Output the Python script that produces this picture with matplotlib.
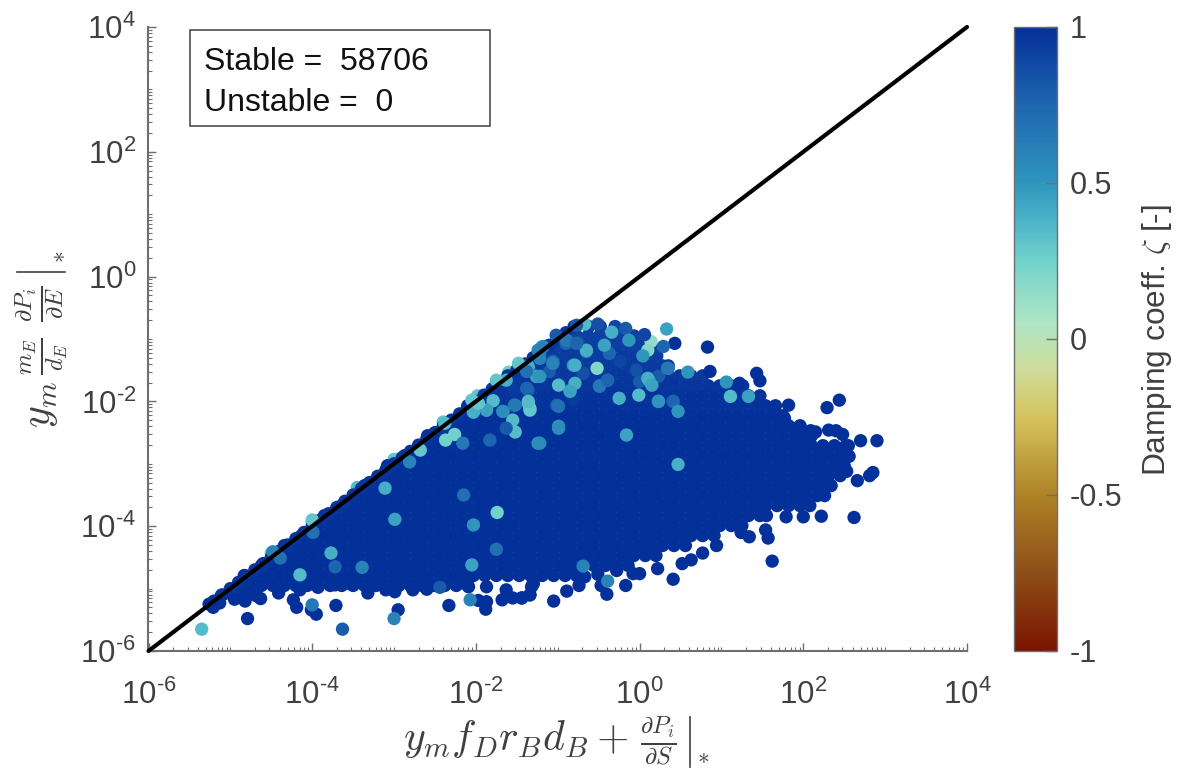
import numpy as np
import matplotlib
matplotlib.use("Agg")
import matplotlib.pyplot as plt
from matplotlib.colors import LinearSegmentedColormap, Normalize
from matplotlib.cm import ScalarMappable
from matplotlib.lines import Line2D
from matplotlib.ticker import LogLocator, FixedLocator, NullFormatter

plt.rcParams['font.family'] = ['Liberation Sans', 'DejaVu Sans']
plt.rcParams['mathtext.fontset'] = 'custom'
plt.rcParams['mathtext.rm'] = 'Liberation Sans'

# values are log10 of the plotted quantities
cloud_levels = [-0.80,-0.95,-1.11,-1.27,-1.43,-1.59,-1.75,-1.91,-2.07,-2.23,-2.39,-2.55,-2.71,-2.87,-3.03,-3.19,-3.35,-3.51,-3.67,-3.83,-3.99,-4.15,-4.31,-4.47,-4.63,-4.79,-4.95,-5.11]
cloud_zeta = [0.9,0.92,0.93,0.94,0.95,0.96,0.97,0.98,0.99,1,1,1,1,1,1,1,1,1,1,1,1,1,1,1,1,1,1,1]
cloud_rows = [
[-0.78,-0.62,-0.48,-0.30],
[-0.91,-0.77,-0.63,-0.49,-0.35,-0.21,-0.07],
[-1.12,-0.98,-0.84,-0.70,-0.56,-0.42,-0.28,-0.14,0.0,0.14],
[-1.19,-1.05,-0.91,-0.77,-0.63,-0.49,-0.35,-0.21,-0.07,0.07,0.21],
[-1.40,-1.26,-1.12,-0.98,-0.84,-0.70,-0.56,-0.42,-0.28,-0.14,0.0,0.14,0.28,0.35],
[-1.61,-1.47,-1.33,-1.19,-1.05,-0.91,-0.77,-0.63,-0.49,-0.35,-0.21,-0.07,0.07,0.21,0.35,0.49,0.63,0.77],
[-1.68,-1.54,-1.40,-1.26,-1.12,-0.98,-0.84,-0.70,-0.56,-0.42,-0.28,-0.14,0.0,0.14,0.28,0.42,0.56,0.70,0.84,0.98,1.12,1.26],
[-1.89,-1.75,-1.61,-1.47,-1.33,-1.19,-1.05,-0.91,-0.77,-0.63,-0.49,-0.35,-0.21,-0.07,0.07,0.21,0.35,0.49,0.63,0.77,0.91,1.05,1.19,1.33,1.47],
[-2.10,-1.96,-1.82,-1.68,-1.54,-1.40,-1.26,-1.12,-0.98,-0.84,-0.70,-0.56,-0.42,-0.28,-0.14,0.0,0.14,0.28,0.42,0.56,0.70,0.84,0.98,1.12,1.26,1.40,1.54],
[-2.17,-2.03,-1.89,-1.75,-1.61,-1.47,-1.33,-1.19,-1.05,-0.91,-0.77,-0.63,-0.49,-0.35,-0.21,-0.07,0.07,0.21,0.35,0.49,0.63,0.77,0.91,1.05,1.19,1.33,1.47,1.61,1.75],
[-2.38,-2.24,-2.10,-1.96,-1.82,-1.68,-1.54,-1.40,-1.26,-1.12,-0.98,-0.84,-0.70,-0.56,-0.42,-0.28,-0.14,0.0,0.14,0.28,0.42,0.56,0.70,0.84,0.98,1.12,1.26,1.40,1.54,1.68,1.82,1.96],
[-2.59,-2.45,-2.31,-2.17,-2.03,-1.89,-1.75,-1.61,-1.47,-1.33,-1.19,-1.05,-0.91,-0.77,-0.63,-0.49,-0.35,-0.21,-0.07,0.07,0.21,0.35,0.49,0.63,0.77,0.91,1.05,1.19,1.33,1.47,1.61,1.75,1.89,2.03,2.10],
[-2.66,-2.52,-2.38,-2.24,-2.10,-1.96,-1.82,-1.68,-1.54,-1.40,-1.26,-1.12,-0.98,-0.84,-0.70,-0.56,-0.42,-0.28,-0.14,0.0,0.14,0.28,0.42,0.56,0.70,0.84,0.98,1.12,1.26,1.40,1.54,1.68,1.82,1.96,2.10,2.24,2.38,2.52],
[-2.87,-2.73,-2.59,-2.45,-2.31,-2.17,-2.03,-1.89,-1.75,-1.61,-1.47,-1.33,-1.19,-1.05,-0.91,-0.77,-0.63,-0.49,-0.35,-0.21,-0.07,0.07,0.21,0.35,0.49,0.63,0.77,0.91,1.05,1.19,1.33,1.47,1.61,1.75,1.89,2.03,2.17,2.31,2.45],
[-3.08,-2.94,-2.80,-2.66,-2.52,-2.38,-2.24,-2.10,-1.96,-1.82,-1.68,-1.54,-1.40,-1.26,-1.12,-0.98,-0.84,-0.70,-0.56,-0.42,-0.28,-0.14,0.0,0.14,0.28,0.42,0.56,0.70,0.84,0.98,1.12,1.26,1.40,1.54,1.68,1.82,1.96,2.10,2.24,2.38,2.50],
[-3.15,-3.01,-2.87,-2.73,-2.59,-2.45,-2.31,-2.17,-2.03,-1.89,-1.75,-1.61,-1.47,-1.33,-1.19,-1.05,-0.91,-0.77,-0.63,-0.49,-0.35,-0.21,-0.07,0.07,0.21,0.35,0.49,0.63,0.77,0.91,1.05,1.19,1.33,1.47,1.61,1.75,1.89,2.03,2.17,2.31,2.45],
[-3.36,-3.22,-3.08,-2.94,-2.80,-2.66,-2.52,-2.38,-2.24,-2.10,-1.96,-1.82,-1.68,-1.54,-1.40,-1.26,-1.12,-0.98,-0.84,-0.70,-0.56,-0.42,-0.28,-0.14,0.0,0.14,0.28,0.42,0.56,0.70,0.84,0.98,1.12,1.26,1.40,1.54,1.68,1.82,1.96,2.10,2.24,2.34],
[-3.43,-3.29,-3.15,-3.01,-2.87,-2.73,-2.59,-2.45,-2.31,-2.17,-2.03,-1.89,-1.75,-1.61,-1.47,-1.33,-1.19,-1.05,-0.91,-0.77,-0.63,-0.49,-0.35,-0.21,-0.07,0.07,0.21,0.35,0.49,0.63,0.77,0.91,1.05,1.19,1.33,1.47,1.61,1.75,1.89,2.03,2.17,2.26],
[-3.64,-3.50,-3.36,-3.22,-3.08,-2.94,-2.80,-2.66,-2.52,-2.38,-2.24,-2.10,-1.96,-1.82,-1.68,-1.54,-1.40,-1.26,-1.12,-0.98,-0.84,-0.70,-0.56,-0.42,-0.28,-0.14,0.0,0.14,0.28,0.42,0.56,0.70,0.84,0.98,1.12,1.26,1.40,1.54,1.68,1.82,1.96,2.08],
[-3.85,-3.71,-3.57,-3.43,-3.29,-3.15,-3.01,-2.87,-2.73,-2.59,-2.45,-2.31,-2.17,-2.03,-1.89,-1.75,-1.61,-1.47,-1.33,-1.19,-1.05,-0.91,-0.77,-0.63,-0.49,-0.35,-0.21,-0.07,0.07,0.21,0.35,0.49,0.63,0.77,0.91,1.05,1.19,1.33,1.47,1.55],
[-3.92,-3.78,-3.64,-3.50,-3.36,-3.22,-3.08,-2.94,-2.80,-2.66,-2.52,-2.38,-2.24,-2.10,-1.96,-1.82,-1.68,-1.54,-1.40,-1.26,-1.12,-0.98,-0.84,-0.70,-0.56,-0.42,-0.28,-0.14,0.0,0.14,0.28,0.42,0.56,0.70,0.84,0.98,1.12,1.25],
[-4.13,-3.99,-3.85,-3.71,-3.57,-3.43,-3.29,-3.15,-3.01,-2.87,-2.73,-2.59,-2.45,-2.31,-2.17,-2.03,-1.89,-1.75,-1.61,-1.47,-1.33,-1.19,-1.05,-0.91,-0.77,-0.63,-0.49,-0.35,-0.21,-0.07,0.07,0.21,0.35,0.49,0.63,0.77,0.91],
[-4.34,-4.20,-4.06,-3.92,-3.78,-3.64,-3.50,-3.36,-3.22,-3.08,-2.94,-2.80,-2.66,-2.52,-2.38,-2.24,-2.10,-1.96,-1.82,-1.68,-1.54,-1.40,-1.26,-1.12,-0.98,-0.84,-0.70,-0.56,-0.42,-0.28,-0.14,0.0,0.14,0.28,0.42,0.56],
[-4.41,-4.27,-4.13,-3.99,-3.85,-3.71,-3.57,-3.43,-3.29,-3.15,-3.01,-2.87,-2.73,-2.59,-2.45,-2.31,-2.17,-2.03,-1.89,-1.75,-1.61,-1.47,-1.33,-1.19,-1.05,-0.91,-0.77,-0.63,-0.49,-0.35,-0.21,-0.07,0.07,0.20],
[-4.62,-4.48,-4.34,-4.20,-4.06,-3.92,-3.78,-3.64,-3.50,-3.36,-3.22,-3.08,-2.94,-2.80,-2.66,-2.52,-2.38,-2.24,-2.10,-1.96,-1.82,-1.68,-1.54,-1.40,-1.26,-1.12,-0.98,-0.84,-0.70,-0.56,-0.42,-0.28,-0.14],
[-4.83,-4.69,-4.55,-4.41,-4.27,-4.13,-3.99,-3.85,-3.71,-3.57,-3.43,-3.29,-3.15,-3.01,-2.87,-2.73,-2.59,-2.45,-2.31,-2.17,-2.03,-1.89,-1.75,-1.61,-1.47,-1.33,-1.19,-1.05,-0.91,-0.77],
[-4.90,-4.76,-4.62,-4.48,-4.34,-4.20,-4.06,-3.92,-3.78,-3.64,-3.50,-3.36,-3.22,-3.08,-2.94,-2.80,-2.66,-2.52,-2.38,-2.24,-2.10],
[-5.11,-4.97,-4.83,-4.69],
]

diagonal_values = [-5.2,-5.1,-5.0,-4.9,-4.8,-4.7,-4.6,-4.5,-4.4,-4.3,-4.2,-4.1,-4.0,-3.9,-3.8,-3.7,-3.6,-3.5,-3.4,-3.3,-3.2,-3.1,-3.0,-2.9,-2.8,-2.7,-2.6,-2.5,-2.4,-2.3,-2.2,-2.1,-2.0,-1.9,-1.8,-1.7,-1.6,-1.5,-1.4,-1.3,-1.2,-1.1,-1.0,-0.9,-0.8]

edge_x = [2.90,2.70,2.55,2.44,2.29,2.85,2.81,2.66,2.53,2.56,2.62,2.48,2.40,2.31,2.15,2.09,1.93,1.82,1.66,1.77,1.43,1.47,0.83,0.43,1.22,0.86,1.62,2.22,2.0,1.79,1.57,1.54,1.34,1.24,0.94,0.77,0.63,0.52,0.41,0.22,0.0,-0.08,-0.17,-0.28,-0.40,-0.47,-0.51,-0.67,-0.74,-0.89,-1.05,-1.34,-1.32,-1.44,-1.30,
          -4.79,-2.95,-3.71,-3.95,-4.01,-4.19,-4.23,-4.82,-4.95,-4.63,-5.21,-5.26,-5.13,-4.41,-4.15,-3.93,-3.72,-3.54,-3.32,-3.10,-2.99,-2.77,-2.60,-2.33,-1.97,-1.87,-1.88,-2.09,-1.87,-1.68,-1.63,-1.55,-1.44,-1.34,-1.30]
edge_y = [-2.63,-2.63,-2.71,-1.98,-2.10,-3.14,-3.19,-3.27,-3.12,-2.88,-3.86,-2.53,-2.47,-2.46,-2.49,-2.47,-2.43,-2.06,-2.07,-2.27,-1.55,-1.67,-1.13,-1.07,-1.71,-1.52,-4.56,-3.84,-3.85,-3.85,-4.19,-4.06,-4.17,-4.10,-4.31,-4.43,-4.54,-4.60,-4.85,-4.68,-4.76,-4.76,-4.95,-4.71,-5.09,-4.95,-4.77,-4.81,-4.95,-5.04,-5.20,-5.10,-4.97,-5.15,-4.92,
          -5.48,-5.34,-5.27,-5.41,-5.34,-5.30,-5.18,-5.20,-5.17,-5.16,-5.30,-5.25,-5.23,-5.07,-5.02,-4.98,-4.94,-4.92,-5.07,-5.02,-5.05,-5.02,-5.01,-5.27,-5.19,-5.21,-5.33,-4.97,-4.97,-5.18,-5.02,-5.15,-5.15,-5.10,-4.92]

mid_x = [-0.75,-0.65,-1.06,-0.81,-1.22,-1.34,-1.36,-1.53,-1.53,-1.87,-1.67,-2.03,-1.01,-0.99,-0.81,-0.39,-0.49,-0.24,0.35,0.23,0.0,0.12,0.23,0.41,-0.85,-0.69,-1.1,-1.22,-0.9,-1.02,-0.04,-0.37]
mid_y = [-1.06,-1.20,-1.36,-1.42,-1.60,-1.50,-1.82,-1.82,-2.06,-2.14,-2.16,-2.17,-2.06,-2.40,-1.97,-1.66,-1.76,-1.36,-1.47,-1.60,-1.68,-1.68,-2.0,-2.0,-1.82,-1.55,-1.52,-1.23,-1.07,-0.94,-1.50,-1.23]
mid_zeta = [0.85,0.6,0.75,0.5,0.55,0.8,0.8,0.95,0.65,0.6,0.55,0.5,0.75,0.5,0.95,0.75,0.7,0.9,0.65,0.8,0.8,0.55,0.5,0.8,0.65,0.85,0.8,0.7,0.75,0.8,0.85,0.75]

accent_x = [-5.35,-3.63,-3.0,-4.0,-2.44,-2.07,-3.11,-2.99,-1.74,-2.03,-1.75,-2.05,-3.39,-2.15,-3.77,-4.15,-3.72,-2.81,-2.37,-2.26,-2.16,-1.79,-1.87,-2.03,-1.36,-1.34,-1.55,-1.52,-1.67,-1.24,-1.52,-1.83,-1.63,-1.38,-1.63,-1.26,-1.36,-1.24,-1.48,-1.75,-1.97,-2.68,-2.38,-2.05,-3.99,-4.39,-4.48,-4.0,
            0.33,0.14,0.10,-0.17,0.06,-0.51,-0.34,-0.13,-0.43,0.04,0.29,0.34,0.59,-0.52,-0.79,-0.99,-0.79,-0.85,-0.49,-0.39,0.10,0.15,-0.01,-0.25,0.23,1.06,1.11,1.33,-0.99,-0.99,-1.22,-0.16,0.47,0.41,0.47,-0.39,-0.69,-1.34,-1.36,-1.22,-0.65,-1.06,-0.89,-0.77,-0.67,-0.77,-1.22,-1.18,-1.38]
accent_y = [-5.65,-5.65,-5.48,-5.26,-4.98,-5.18,-3.39,-3.89,-3.78,-3.98,-4.37,-4.62,-4.66,-3.5,-4.43,-4.78,-4.65,-2.97,-2.62,-2.53,-2.67,-1.99,-2.14,-2.17,-2.03,-2.14,-2.30,-2.06,-2.16,-2.67,-2.49,-2.62,-2.43,-1.79,-1.66,-1.60,-1.44,-1.18,-1.39,-1.66,-2.03,-2.78,-2.35,-1.98,-4.10,-4.51,-4.41,-3.9,
            -0.84,-1.04,-1.18,-0.83,-0.93,-0.76,-0.89,-1.02,-1.10,-1.27,-1.12,-1.47,-1.53,-1.47,-1.42,-1.74,-1.71,-1.84,-1.75,-1.66,-1.63,-1.74,-1.90,-1.95,-2.0,-1.69,-1.92,-1.92,-2.08,-2.43,-2.67,-2.54,-3.01,-2.0,-2.16,-4.88,-4.64,-2.11,-2.0,-1.60,-1.18,-1.39,-1.02,-1.07,-0.76,-0.78,-1.31,-1.12,-1.52]
accent_zeta = [0.35,0.8,0.6,0.65,0.8,0.6,0.4,0.45,0.25,0.5,0.7,0.45,0.6,0.7,0.4,0.35,0.75,0.6,0.25,0.25,0.65,0.35,0.45,0.4,0.3,0.3,0.35,0.65,0.55,0.5,0.35,0.75,0.8,0.75,0.4,0.45,0.4,0.6,0.3,0.3,0.3,0.3,0.35,0.3,0.7,0.7,0.6,0.3,
               0.45,0.15,0.2,0.8,0.9,0.85,0.4,0.5,0.45,0.5,0.75,0.65,0.5,0.2,0.4,0.35,0.4,0.45,0.65,0.75,0.4,0.45,0.35,0.4,0.5,0.5,0.35,0.45,0.7,0.55,0.55,0.45,0.4,0.75,0.5,0.6,0.6,0.3,0.35,0.5,0.4,0.6,0.65,0.75,0.35,0.8,0.6,0.6,0.7]

sliver_x = [-4.5,-4.0,-3.45,-3.0,-2.4,-1.98,-1.6,-1.2]
sliver_y = [-4.43,-3.93,-3.38,-2.93,-2.33,-1.91,-1.53,-1.13]
sliver_zeta = [0.3,0.3,0.35,0.3,0.3,0.3,0.25,0.3]

axis_decades = [-6,-4,-2,0,2,4]
cbar_ticks = [-1,-0.5,0,0.5,1]
cbar_tick_labels = ['-1','-0.5','0','0.5','1']

cmap = LinearSegmentedColormap.from_list('tarn_like', [
    (0.0,'#7a1400'),(0.125,'#8e4f18'),(0.25,'#ae8326'),(0.375,'#d6c45f'),(0.45,'#cfdc9a'),
    (0.525,'#b0e6c4'),(0.625,'#72d2cb'),(0.6875,'#4db5c8'),(0.75,'#2f96bd'),(0.875,'#1f66b0'),(1.0,'#04309a')])
norm = Normalize(-1, 1)

W, H = 1179, 769
fig = plt.figure(figsize=(W/100, H/100), dpi=100)
ax = fig.add_axes([148.5/W, (H-651)/H, (967-148.5)/W, 624/H])
GRAY = '#6e6e6e'
TXT = '#404040'
S = 92

ax.scatter(10.0**np.array(sliver_x), 10.0**np.array(sliver_y), c=sliver_zeta, cmap=cmap, norm=norm, s=S, lw=0, zorder=2)
for lv, z, row in zip(cloud_levels, cloud_zeta, cloud_rows):
    ax.scatter(10.0**np.array(row), np.full(len(row), 10.0**lv), c=np.full(len(row), z), cmap=cmap, norm=norm, s=S, lw=0, zorder=3)
dv = 10.0**np.array(diagonal_values)
ax.scatter(dv, dv, c=np.ones(len(dv))*0.97, cmap=cmap, norm=norm, s=S, lw=0, zorder=3)
ax.scatter(10.0**np.array(edge_x), 10.0**np.array(edge_y), c=np.ones(len(edge_x)), cmap=cmap, norm=norm, s=S, lw=0, zorder=3)
ax.scatter(10.0**np.array(mid_x), 10.0**np.array(mid_y), c=mid_zeta, cmap=cmap, norm=norm, s=S, lw=0, zorder=3.5)
ax.scatter(10.0**np.array(accent_x), 10.0**np.array(accent_y), c=accent_zeta, cmap=cmap, norm=norm, s=S, lw=0, zorder=4)

ax.plot([1e-6, 1e4], [1e-6, 1e4], color='black', lw=3, zorder=5, clip_on=False, solid_capstyle='round')
ax.set_xscale('log'); ax.set_yscale('log')
ax.set_xlim(1e-6, 1e4); ax.set_ylim(1e-6, 1e4)

for side in ('top', 'right'):
    ax.spines[side].set_visible(False)
for side in ('left', 'bottom'):
    ax.spines[side].set_color(GRAY); ax.spines[side].set_linewidth(1.5)

ticks = [10.0**d for d in axis_decades]
labels = [r'$\mathrm{10^{\text{%d}}}$' % d for d in axis_decades]
for axis in (ax.xaxis, ax.yaxis):
    axis.set_major_locator(FixedLocator(ticks))
    axis.set_minor_locator(LogLocator(base=10, subs=np.arange(1, 10)/1.0, numticks=30))
    axis.set_minor_formatter(NullFormatter())
ax.set_xticks(ticks); ax.set_yticks(ticks)
ax.set_xticklabels(labels); ax.set_yticklabels(labels)
ax.tick_params(which='major', direction='in', length=6, width=1.0, color=GRAY, labelsize=22.5, labelcolor=TXT)
ax.tick_params(axis='x', which='major', pad=21)
ax.tick_params(axis='y', which='major', pad=9)
ax.tick_params(which='minor', direction='in', length=3, width=0.8, color=GRAY)

MATH = dict(color=TXT, math_fontfamily='cm')
# x label, assembled from its parts
fig.text(403/W, 1-750/H, r'$y_m f_D r_B d_B +$', fontsize=30, ha='left', va='baseline', **MATH)
fig.text(658/W, 1-741/H, r'$\frac{\partial P_i}{\partial S}$', fontsize=25, ha='center', va='center', **MATH)
fig.add_artist(Line2D([690/W, 690/W], [1-717/H, 1-767/H], color=TXT, lw=1.2))
fig.text(703/W, 1-757/H, r'$*$', fontsize=17, ha='center', va='center', **MATH)
# y label, assembled from its parts
fig.text(60/W, 1-428/H, r'$y_m$', fontsize=30, ha='left', va='bottom', rotation=90, rotation_mode='anchor', **MATH)
fig.text(45/W, 1-356/H, r'$\frac{m_E}{d_E}$', fontsize=25, ha='center', va='center', rotation=90, **MATH)
fig.text(40/W, 1-304/H, r'$\frac{\partial P_i}{\partial E}$', fontsize=25, ha='center', va='center', rotation=90, **MATH)
fig.add_artist(Line2D([17/W, 65/W], [1-272/H, 1-272/H], color=TXT, lw=1.2))
fig.text(59/W, 1-257/H, r'$*$', fontsize=17, ha='center', va='center', rotation=90, **MATH)

box = plt.Rectangle((190/W, 1-126/H), 300/W, 96/H, transform=fig.transFigure, fill=False, ec='#404040', lw=1.1, zorder=6)
fig.add_artist(box)
fig.text(204/W, 1-62/H, 'Stable =  58706', fontsize=23, color='#111111', va='center', ha='left')
fig.text(204/W, 1-103/H, 'Unstable =  0', fontsize=23, color='#111111', va='center', ha='left')

cax = fig.add_axes([1014/W, (H-651)/H, 43/W, 624/H])
cb = fig.colorbar(ScalarMappable(norm=norm, cmap=cmap), cax=cax)
cb.set_ticks(cbar_ticks)
cb.set_ticklabels(cbar_tick_labels)
cb.ax.tick_params(direction='in', length=8, width=1, color=GRAY, labelsize=22, labelcolor=TXT, pad=9)
cb.outline.set_edgecolor(GRAY); cb.outline.set_linewidth(1.0)
fig.text(1157/W, 1-340/H, r'Damping coeff. $\zeta$ [-]', fontsize=22.8, color=TXT, rotation=90, ha='center', va='center', math_fontfamily='cm')

fig.savefig('out.png', dpi=100)
